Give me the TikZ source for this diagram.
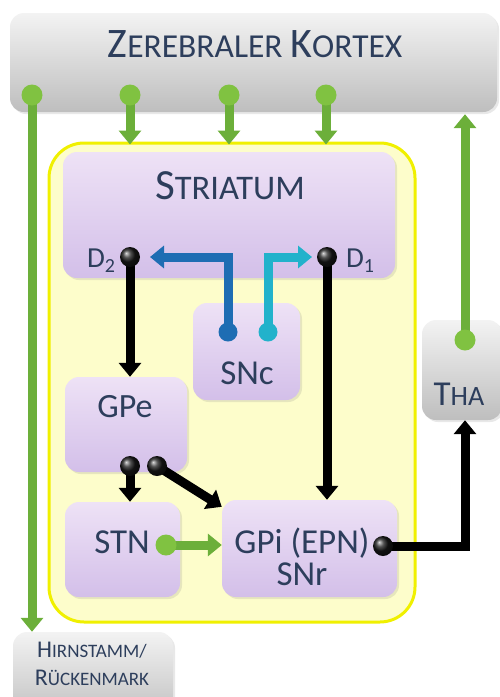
\documentclass[tikz,border=0pt]{standalone}
\usepackage{fontspec}
\setmainfont{Carlito}
\usetikzlibrary{arrows.meta,calc,shadows}
\definecolor{txt}{HTML}{2D3E5C}
\definecolor{lavtop}{HTML}{EEE2F6}
\definecolor{lavbot}{HTML}{D3BFE9}
\definecolor{graytop}{HTML}{F3F3F3}
\definecolor{graybot}{HTML}{BEBEBE}
\definecolor{ylwfill}{HTML}{FDFDCB}
\definecolor{ylwline}{HTML}{F0F000}
\definecolor{grn}{HTML}{6CAF3A}
\definecolor{grndot}{HTML}{80C241}
\definecolor{dblue}{HTML}{1E6DB3}
\definecolor{cyanc}{HTML}{22B2CB}
\newcommand\mysc[4]{{\fontsize{#1}{#1}\selectfont #3}{\fontsize{#2}{#2}\selectfont #4}}
\newcommand\dsub[1]{D\raisebox{-0.35ex}{\fontsize{20pt}{20pt}\selectfont #1}}
\tikzset{
  lavbox/.style={rounded corners=14pt, top color=lavtop, bottom color=lavbot, draw=none,
     drop shadow={opacity=0.18, shadow xshift=2pt, shadow yshift=-2pt}},
  graybox/.style={rounded corners=14pt, top color=graytop, bottom color=graybot, draw=none,
     drop shadow={opacity=0.18, shadow xshift=2pt, shadow yshift=-2pt}},
  lbl/.style={text=txt, inner sep=0pt, font=\fontsize{34pt}{36pt}\selectfont},
  tip/.style={-{Triangle[width=22pt,length=14pt]}},
  blackarrow/.style={line width=9pt, black, tip},
  greenarrow/.style={line width=9pt, grn, tip},
  bluearrow/.style={line width=9pt, dblue, tip},
  cyanarrow/.style={line width=9pt, cyanc, tip},
  bdot/.style={circle, inner sep=0pt, minimum size=20pt, ball color=black!90, draw=none},
  gdot/.style={circle, inner sep=0pt, minimum size=21pt, fill=grndot, draw=none},
  bludot/.style={circle, inner sep=0pt, minimum size=19pt, fill=dblue, draw=none},
  cyadot/.style={circle, inner sep=0pt, minimum size=19pt, fill=cyanc, draw=none},
}
\begin{document}
\begin{tikzpicture}[x=1pt,y=-1pt]
\useasboundingbox (0,0) rectangle (500,697);
\clip (0,0) rectangle (500,697);
% boxes
\node[graybox, minimum width=487pt, minimum height=99pt] (kortex) at (253.5,62.5) {};
\node[lbl] (kortexT) at (255,44) {\mysc{42pt}{33.5pt}{Z}{EREBRALER} \mysc{42pt}{33.5pt}{K}{ORTEX}};
\node[rounded corners=35pt, fill=ylwfill, draw=ylwline, line width=3pt, minimum width=366pt, minimum height=479pt] (bg) at (232,382.5) {};
\node[lavbox, minimum width=332pt, minimum height=126pt] (str) at (229,215) {};
\node[lbl] (strT) at (230,186) {\mysc{43pt}{34.5pt}{S}{TRIATUM}};
\node[lavbox, minimum width=107pt, minimum height=97pt] (snc) at (246.5,351.5) {};
\node[lbl, font=\fontsize{35pt}{37pt}\selectfont] (sncT) at (247,373) {SNc};
\node[lavbox, minimum width=122pt, minimum height=95pt] (gpe) at (126,424.5) {};
\node[lbl] (gpeT) at (125,407) {GPe};
\node[lavbox, minimum width=115pt, minimum height=95pt] (stn) at (122.5,549.5) {};
\node[lbl, font=\fontsize{35pt}{37pt}\selectfont] (stnT) at (122,542) {STN};
\node[lavbox, minimum width=175pt, minimum height=97pt] (gpi) at (309.5,548.5) {};
\node[lbl, align=center, font=\fontsize{35pt}{32pt}\selectfont] (gpiT) at (302,557) {GPi (EPN)\\SNr};
\node[graybox, minimum width=80pt, minimum height=100pt] (tha) at (462,370) {};
\node[lbl] (thaT) at (459,394) {\mysc{35pt}{28pt}{T}{HA}};
\node[graybox, minimum width=160pt, minimum height=90pt] (hirn) at (93,677) {};
\node[lbl, align=center, font=\fontsize{24pt}{28pt}\selectfont] (hirnT) at (92,664) {\mysc{24pt}{19pt}{H}{IRNSTAMM/}\\\mysc{24pt}{19pt}{R}{ÜCKENMARK}};
\node[lbl, font=\fontsize{29pt}{29pt}\selectfont] (d2T) at (101,261) {\dsub{2}};
\node[lbl, font=\fontsize{29pt}{29pt}\selectfont] (d1T) at (360,261) {\dsub{1}};
% dot positions
\coordinate (k1) at (32,95);
\coordinate (k2) at (130,95);
\coordinate (k3) at (229,95);
\coordinate (k4) at (326,95);
\coordinate (thad) at (465,340);
\coordinate (d2) at (130,257);
\coordinate (d1) at (327,257);
\coordinate (sb) at (228,332);
\coordinate (sc) at (268,332);
\coordinate (g1) at (130,466);
\coordinate (g2) at (157,466);
\coordinate (stnd) at (166,545);
\coordinate (gpid) at (383,546);
% green connectors
\draw[greenarrow] (k1) -- (k1 |- hirn.north);
\draw[greenarrow] (k2) -- ($(k2 |- bg.north)+(0,3)$);
\draw[greenarrow] (k3) -- ($(k3 |- bg.north)+(0,3)$);
\draw[greenarrow] (k4) -- ($(k4 |- bg.north)+(0,3)$);
\draw[greenarrow] (thad) -- ($(thad |- kortex.south)+(0,2)$);
\draw[greenarrow] (stnd) -- (stnd -| gpi.west);
% blue connectors
\draw[bluearrow, shorten >=20pt] (sb) |- (d2);
\draw[cyanarrow, shorten >=15pt] (sc) |- (d1);
% black connectors
\draw[blackarrow] (d2) -- (d2 |- gpe.north);
\draw[blackarrow] (d1) -- (d1 |- gpi.north);
\draw[blackarrow] (g1) -- (g1 |- stn.north);
\draw[blackarrow] (g2) -- ($(gpi.north west)+(0,7)$);
\draw[blackarrow] (gpid) -| ($(tha.south)+(3,0)$);
% dots
\node[gdot] (k1d) at (k1) {};
\node[gdot] (k2d) at (k2) {};
\node[gdot] (k3d) at (k3) {};
\node[gdot] (k4d) at (k4) {};
\node[gdot] (thadd) at (thad) {};
\node[gdot] (stndd) at (stnd) {};
\node[bludot] (sbd) at (sb) {};
\node[cyadot] (scd) at (sc) {};
\node[bdot] (d2d) at (d2) {};
\node[bdot] (d1d) at (d1) {};
\node[bdot] (g1d) at (g1) {};
\node[bdot] (g2d) at (g2) {};
\node[bdot] (gpidd) at (gpid) {};
\end{tikzpicture}
\end{document}
